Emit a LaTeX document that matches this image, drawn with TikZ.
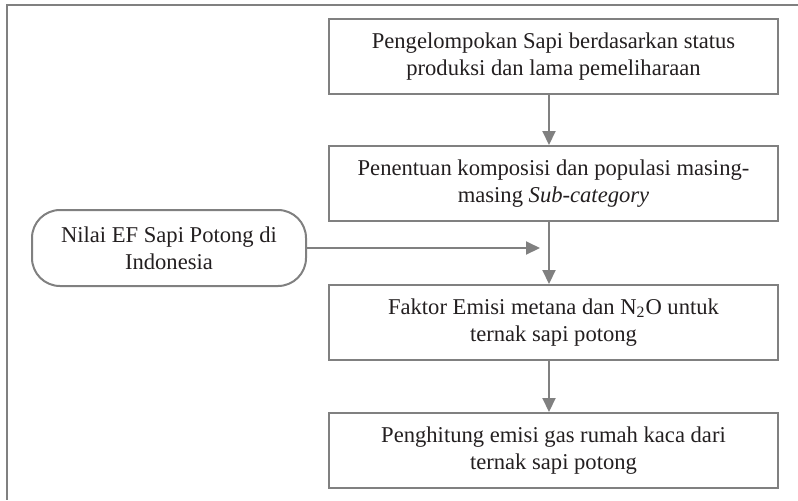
\documentclass[tikz,border=0pt]{standalone}
\usepackage{fontspec}
\setmainfont{Liberation Serif}
\usetikzlibrary{arrows.meta,positioning}
\definecolor{linegray}{HTML}{808080}
\definecolor{textdark}{HTML}{231F20}

\begin{document}
\begin{tikzpicture}[x=0.5pt,y=-0.5pt,
    stepbox/.style={draw=linegray, line width=1pt, text=textdark,
        minimum width=224.5pt, minimum height=37.5pt, inner sep=0pt,
        align=center, font=\fontsize{11.3}{13.5}\selectfont},
    sourcebox/.style={stepbox, rounded corners=14pt,
        minimum width=137pt, minimum height=38pt},
    flow/.style={draw=linegray, line width=1pt,
        -{Triangle[length=7pt,width=6.5pt]}, fill=linegray}]
    \useasboundingbox (0,0) rectangle (798,500);

    % Frame
    \draw[linegray, line width=1.2pt] (798,5) -- (7,5) -- (7,500);

    % Steps
    \node[stepbox] (group) at (553.5,56.5)
        {Pengelompokan Sapi berdasarkan status\\produksi dan lama pemeliharaan};
    \node[stepbox] (comp) at (553.5,183.5)
        {Penentuan komposisi dan populasi masing-\\masing \textit{Sub-category}};
    \node[stepbox] (factor) at (553.5,322.5)
        {Faktor Emisi metana dan N\textsubscript{2}O untuk\\ternak sapi potong};
    \node[stepbox] (calc) at (553.5,450.5)
        {Penghitung emisi gas rumah kaca dari\\ternak sapi potong};

    % Input
    \node[sourcebox] (ef) at (169,248)
        {Nilai EF Sapi Potong di\\Indonesia};

    % Arrows
    \coordinate (spine) at (549,0);
    \coordinate (join) at (540,248);
    \draw[flow] (group.south -| spine) -- (comp.north -| spine);
    \draw[flow] (comp.south -| spine) -- (factor.north -| spine);
    \draw[flow] (factor.south -| spine) -- (calc.north -| spine);
    \draw[flow] (ef.east) -- (join);
\end{tikzpicture}
\end{document}
